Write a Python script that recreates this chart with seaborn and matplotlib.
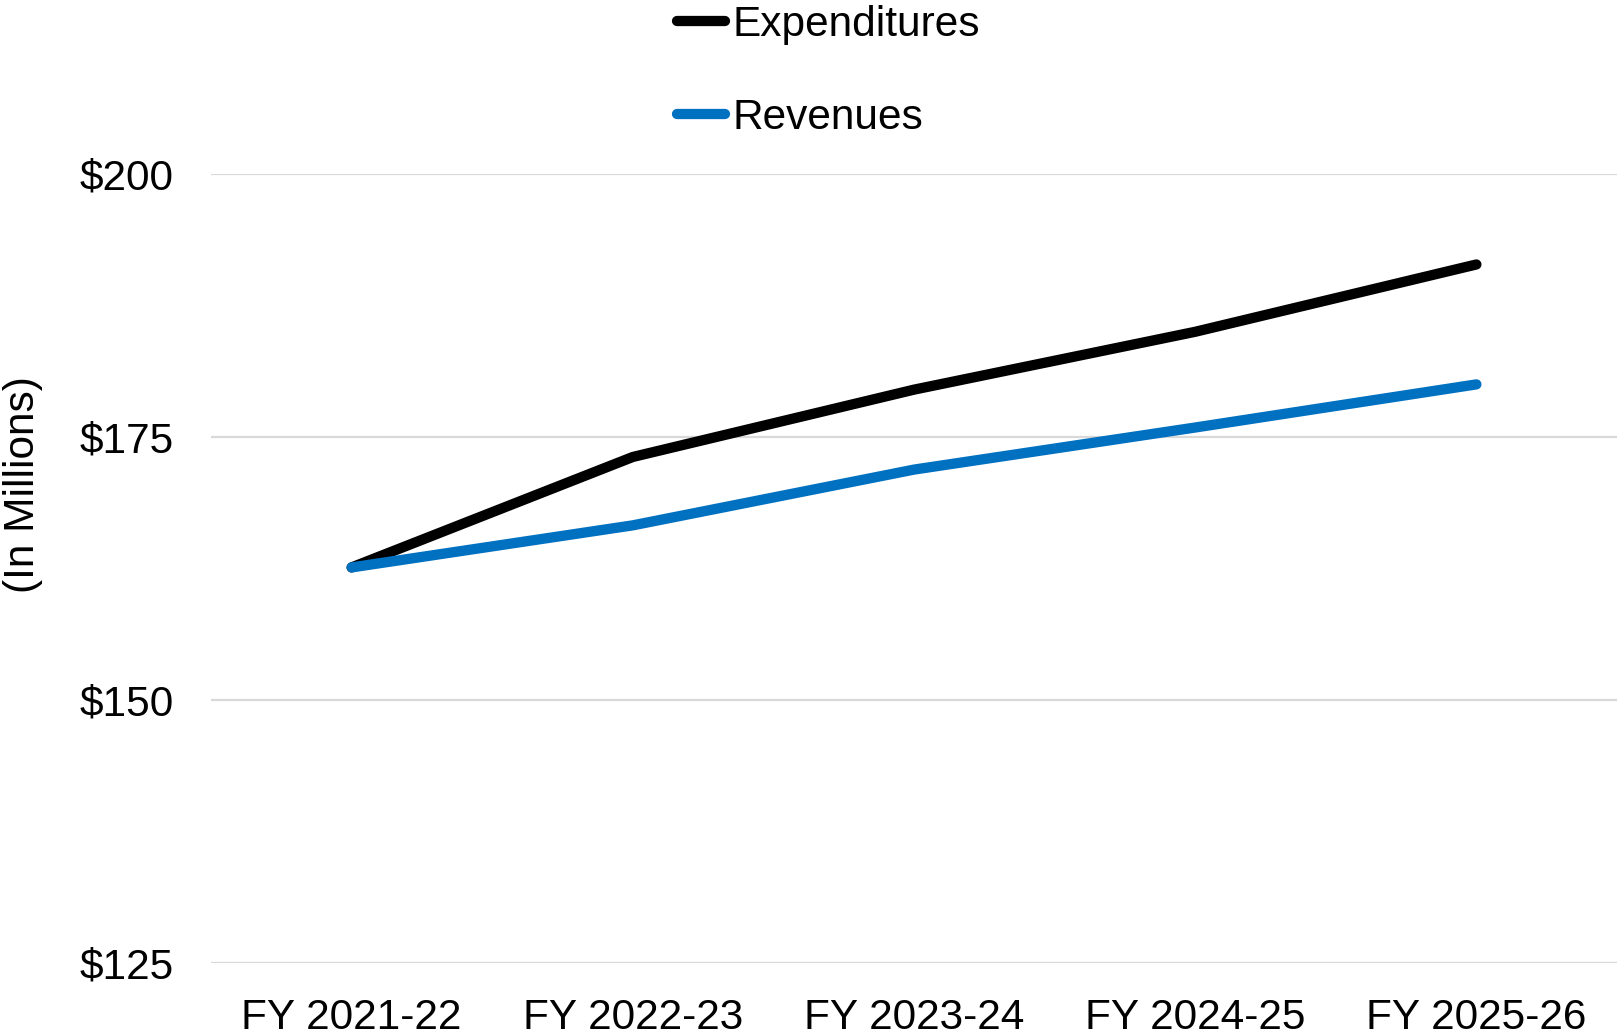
import matplotlib
matplotlib.use("Agg")
import matplotlib.pyplot as plt
import seaborn as sns
import pandas as pd
from matplotlib.ticker import FuncFormatter

# Budget forecast figures (in millions)
years = ["FY 2021-22", "FY 2022-23", "FY 2023-24", "FY 2024-25", "FY 2025-26"]
expenditures = [162.6, 173.1, 179.5, 185.0, 191.4]
revenues = [162.6, 166.6, 171.9, 175.9, 180.0]
y_ticks = [125, 150, 175, 200]

sns.set_style("white")
plt.rcParams["font.family"] = ["Liberation Sans", "DejaVu Sans"]
plt.rcParams["text.color"] = "black"
plt.rcParams["axes.labelcolor"] = "black"

df = pd.DataFrame({
    "Year": years * 2,
    "Amount": expenditures + revenues,
    "Series": ["Expenditures"] * len(years) + ["Revenues"] * len(years),
})

fig = plt.figure(figsize=(16.17, 10.32), dpi=100)
ax = fig.add_axes([0.1305, 0.0669, 0.8695, 0.7645])

sns.lineplot(
    data=df, x="Year", y="Amount", hue="Series",
    palette={"Expenditures": "#000000", "Revenues": "#0070C0"},
    linewidth=7.4, sort=False, ax=ax, legend=True,
)
for line in ax.lines:
    line.set_solid_capstyle("round")
    line.set_solid_joinstyle("round")

ax.set_xlim(-0.5, len(years) - 0.5)
ax.set_ylim(125, 200)
ax.set_yticks(y_ticks)
ax.yaxis.set_major_formatter(FuncFormatter(lambda v, p: f"${v:,.0f}"))
ax.grid(axis="y", color="#d9d9d9", linewidth=1.6)
ax.grid(axis="x", visible=False)
ax.set_axisbelow(True)
for s in ax.spines.values():
    s.set_visible(False)
ax.tick_params(axis="both", length=0, labelsize=30.5, colors="#000000")
ax.tick_params(axis="y", pad=27)
ax.tick_params(axis="x", pad=25)
ax.set_xlabel("")
ax.set_ylabel("(In Millions)", fontsize=30.5)
ax.yaxis.set_label_coords(-0.1195, 0.606)

handles, labels = ax.get_legend_handles_labels()
for h in handles:
    h.set_linewidth(7.4)
    h.set_solid_capstyle("round")
ax.legend(
    handles, labels, loc="upper left", bbox_to_anchor=(677 / 1617, 1 - 5 / 1032),
    bbox_transform=fig.transFigure, frameon=False, fontsize=30.5,
    handlelength=1.13, handletextpad=0.19, labelspacing=1.25,
    borderaxespad=0.0, borderpad=0.0,
)

fig.savefig("out.png", dpi=100)
